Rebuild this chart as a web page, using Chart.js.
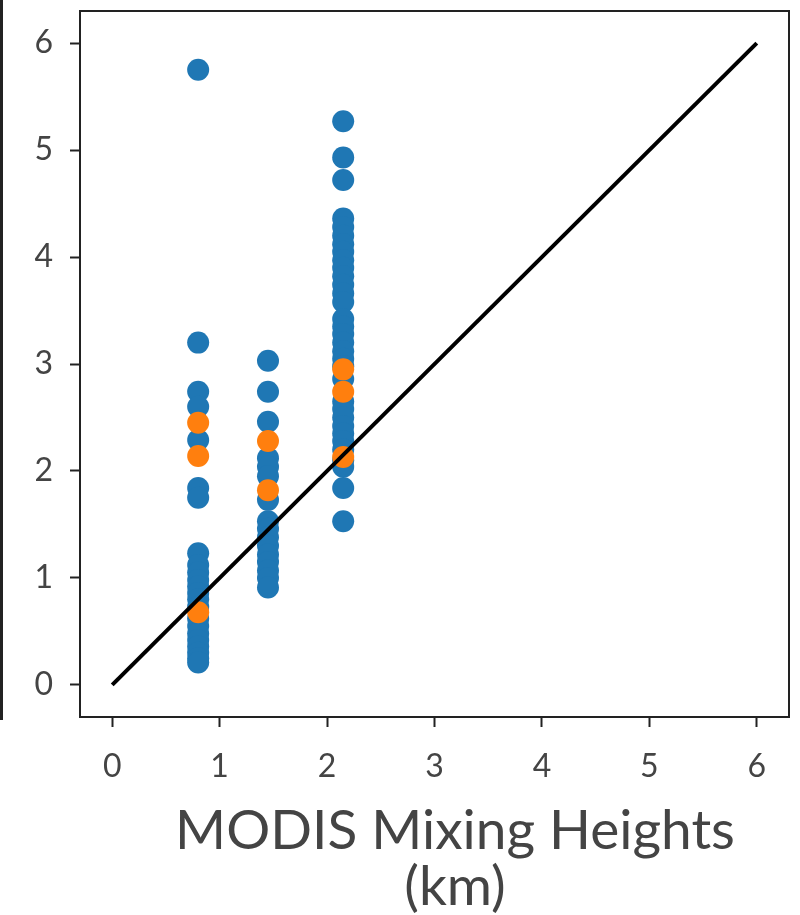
<!DOCTYPE html>
<html>
<head>
<meta charset="utf-8">
<title>MODIS mixing heights</title>
<script src="https://cdn.jsdelivr.net/npm/chart.js@4/dist/chart.umd.min.js"></script>
<style>
    html, body { margin: 0; padding: 0; background: #ffffff; }
    #wrap { width: 800px; height: 915px; }
</style>
</head>
<body>
<div id="wrap"><canvas id="mixing" width="800" height="915"></canvas></div>
<script>
// Column positions (km) of the MODIS retrievals
var colX = [0.8, 1.45, 2.15];

// Comparison heights (km) per column, blue series
var blueCol1 = [5.75, 3.2, 2.74, 2.6, 2.29, 1.84, 1.75, 1.23, 1.12, 1.05, 0.98, 0.92, 0.86, 0.8, 0.73,
    0.62, 0.55, 0.48, 0.42, 0.36, 0.3, 0.25, 0.21];
var blueCol2 = [3.03, 2.74, 2.46, 2.12, 2.04, 1.95, 1.73, 1.53, 1.46, 1.38, 1.3, 1.22, 1.15, 1.07, 1.0, 0.91];
var blueCol3 = [5.27, 4.93, 4.72, 4.36, 4.28, 4.2, 4.12, 4.05, 3.97, 3.9, 3.82, 3.74, 3.66, 3.58, 3.42,
    3.35, 3.28, 3.2, 3.12, 3.05, 2.98, 2.86, 2.65, 2.58, 2.5, 2.42, 2.35, 2.28, 2.2, 2.1, 2.04, 1.84, 1.53];

// Orange series
var orangeCol1 = [2.45, 2.14, 0.68];
var orangeCol2 = [2.28, 1.82];
var orangeCol3 = [2.95, 2.74, 2.13];

// 1:1 reference line
var oneToOne = [0, 6];

// Tick labels
var xTicks = [0, 1, 2, 3, 4, 5, 6];
var yTicks = [0, 1, 2, 3, 4, 5, 6];

var textColor = '#444444';
var axisColor = '#222222';
var fontFamily = 'Lato, "Open Sans", sans-serif';

function toPoints(x, ys) {
    return ys.map(function (y) { return { x: x, y: y }; });
}

var bluePoints = [].concat(toPoints(colX[0], blueCol1), toPoints(colX[1], blueCol2), toPoints(colX[2], blueCol3));
var orangePoints = [].concat(toPoints(colX[0], orangeCol1), toPoints(colX[1], orangeCol2), toPoints(colX[2], orangeCol3));
var linePoints = oneToOne.map(function (v) { return { x: v, y: v }; });

// Frame, left bracket and axis title
var decorPlugin = {
    id: 'decor',
    afterDraw: function (chart) {
        var ctx = chart.ctx;
        var area = chart.chartArea;
        ctx.save();
        ctx.strokeStyle = axisColor;
        ctx.lineWidth = 2;
        ctx.strokeRect(area.left, area.top, area.right - area.left, area.bottom - area.top);

        ctx.lineWidth = 3;
        ctx.beginPath();
        ctx.moveTo(1.5, 0);
        ctx.lineTo(1.5, 720);
        ctx.stroke();

        ctx.fillStyle = textColor;
        ctx.font = '55px ' + fontFamily;
        ctx.textAlign = 'center';
        ctx.textBaseline = 'alphabetic';
        ctx.fillText('MODIS Mixing Heights', 455, 849);
        ctx.fillText('(km)', 455, 905);
        ctx.restore();
    }
};

function axisOptions(ticks, fitSize, isX) {
    return {
        type: 'linear',
        min: -0.3,
        max: 6.3,
        afterBuildTicks: function (scale) {
            scale.ticks = ticks.map(function (v) { return { value: v }; });
        },
        afterFit: function (scale) {
            if (isX) scale.height = fitSize;
            else scale.width = fitSize;
            // outer ticks sit inside the range, no extra room needed
            scale.paddingTop = 0;
            scale.paddingBottom = 0;
            scale.paddingLeft = 0;
            scale.paddingRight = 0;
        },
        ticks: {
            color: textColor,
            font: { family: fontFamily, size: 32 },
            padding: isX ? 20 : 17,
            maxRotation: 0,
            autoSkip: false
        },
        grid: {
            display: true,
            drawOnChartArea: false,
            drawTicks: true,
            tickLength: 10,
            tickWidth: 2,
            tickColor: axisColor,
            color: axisColor
        },
        border: {
            display: true,
            color: axisColor,
            width: 2
        }
    };
}

new Chart(document.getElementById('mixing').getContext('2d'), {
    type: 'scatter',
    data: {
        datasets: [{
            type: 'line',
            data: linePoints,
            borderColor: '#000000',
            borderWidth: 4,
            pointRadius: 0,
            fill: false,
            order: 0
        }, {
            data: orangePoints,
            backgroundColor: '#ff7f0e',
            borderColor: '#ff7f0e',
            borderWidth: 0,
            pointRadius: 11,
            order: 1
        }, {
            data: bluePoints,
            backgroundColor: '#1f77b4',
            borderColor: '#1f77b4',
            borderWidth: 0,
            pointRadius: 11,
            order: 2
        }]
    },
    options: {
        responsive: false,
        animation: false,
        layout: {
            padding: { top: 11, right: 9, left: 0, bottom: 0 }
        },
        plugins: {
            legend: { display: false },
            tooltip: { enabled: false }
        },
        scales: {
            x: axisOptions(xTicks, 198, true),
            y: axisOptions(yTicks, 80, false)
        }
    },
    plugins: [decorPlugin]
});
</script>
</body>
</html>
